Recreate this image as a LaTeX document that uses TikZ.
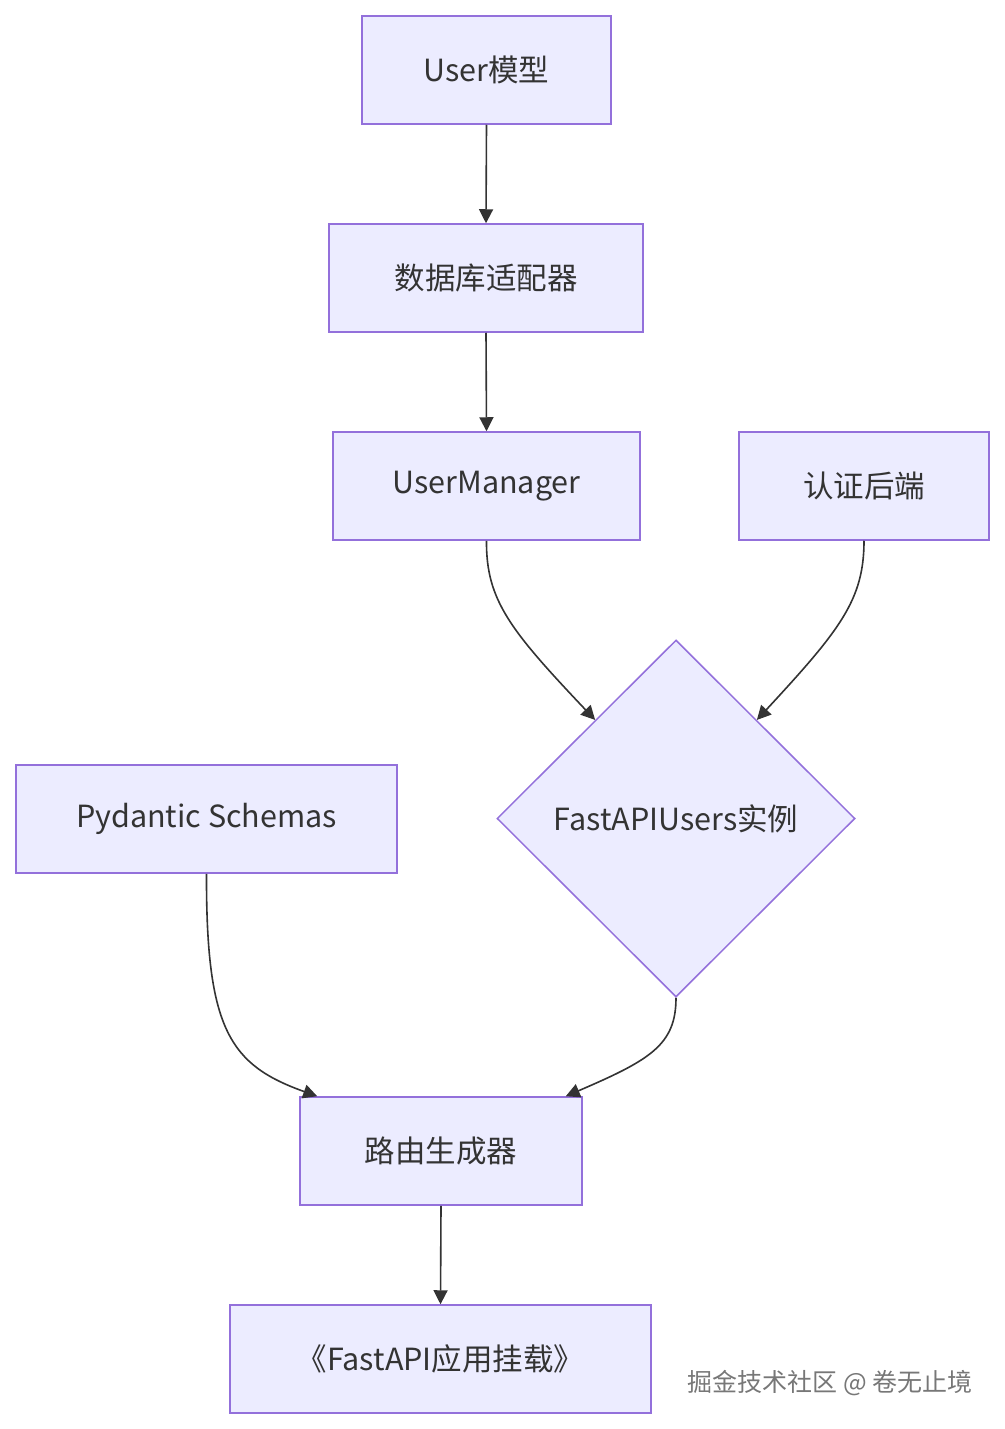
\documentclass[tikz,border=0pt]{standalone}
\usepackage{fontspec}
\setmainfont{Noto Sans CJK SC}
\usetikzlibrary{shapes.geometric,arrows.meta,calc}
\definecolor{nodefill}{HTML}{ECECFF}
\definecolor{nodeborder}{HTML}{9370DB}
\definecolor{edgecol}{HTML}{333333}
\definecolor{txt}{HTML}{333333}
\definecolor{wmcol}{HTML}{777777}
\begin{document}
\begin{tikzpicture}[x=1pt,y=-1pt,
  box/.style={draw=nodeborder,fill=nodefill,line width=1.5pt,minimum height=108pt,inner sep=0pt,text=txt,font=\fontsize{30.5}{36}\selectfont},
  dia/.style={diamond,draw=nodeborder,fill=nodefill,line width=1.5pt,minimum width=358pt,minimum height=357pt,inner sep=0pt,text=txt,font=\fontsize{30.5}{36}\selectfont},
  edge/.style={draw=edgecol,line width=1.6pt,-{Triangle[length=14pt,width=14pt]}}]
\useasboundingbox (0,0) rectangle (1004,1429);
\node[box,minimum width=249pt] (um0) at (486.5,70) {User模型};
\node[box,minimum width=314pt] (db) at (486,278) {数据库适配器};
\node[box,minimum width=307pt] (mgr) at (486.5,486) {UserManager};
\node[box,minimum width=250pt] (auth) at (864,486) {认证后端};
\node[dia] (fu) at (676,818.5) {FastAPIUsers实例};
\node[box,minimum width=381pt] (pyd) at (206.5,819) {Pydantic Schemas};
\node[box,minimum width=282pt] (rg) at (441,1151) {路由生成器};
\node[box,minimum width=421pt] (app) at (440.5,1359) {《FastAPI应用挂载》};
\node[text=wmcol,font=\fontsize{25}{30}\selectfont] (wm) at (830,1383) {掘金技术社区 @ 卷无止境};
\draw[edge] (um0.south) -- (db.north);
\draw[edge] (db.south) -- (mgr.north);
\draw[edge] (mgr.south) .. controls (486,600) and (510,630) .. ($(fu.north)!0.45!(fu.west)$);
\draw[edge] (auth.south) .. controls (864,600) and (840,630) .. ($(fu.north)!0.45!(fu.east)$);
\draw[edge] (fu.south) .. controls (676,1045) and (650,1060) .. ($(rg.north east)+(-17,0)$);
\draw[edge] (pyd.south) .. controls (206,1030) and (230,1065) .. ($(rg.north west)+(18,0)$);
\draw[edge] (rg.south) -- (app.north);
\end{tikzpicture}
\end{document}
